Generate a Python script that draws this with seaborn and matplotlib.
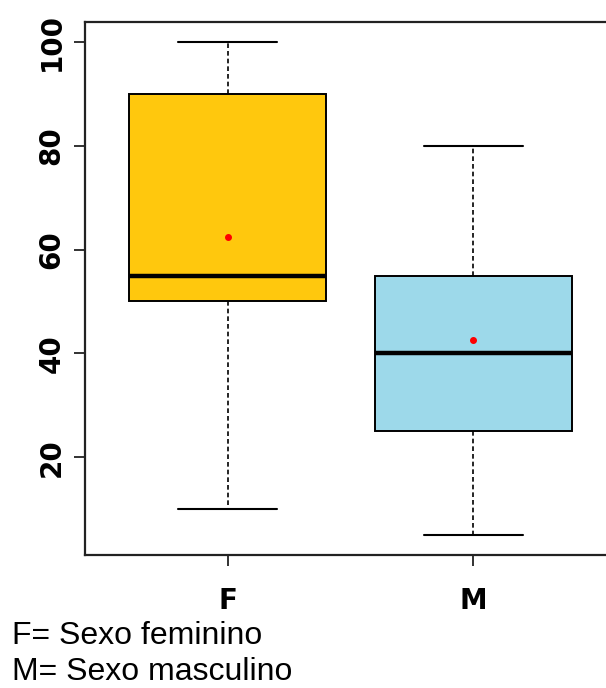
import pandas as pd
import seaborn as sns
import matplotlib.pyplot as plt

# valores por grupo
sexo = ["F", "M"]
valores_f = [10, 40, 50, 52, 55, 75, 90, 90, 100]
valores_m = [5, 20, 25, 38, 40, 50, 55, 70, 80]
cores = ["#FFC80D", "#9DD9EA"]
legenda = ["F= Sexo feminino", "M= Sexo masculino"]
y_ticks = [20, 40, 60, 80, 100]

df = pd.DataFrame({
    "sexo": ["F"] * len(valores_f) + ["M"] * len(valores_m),
    "valor": valores_f + valores_m,
})

sns.set_style("ticks")
plt.rcParams["font.family"] = ["DejaVu Sans"]
plt.rcParams["text.color"] = "black"

fig = plt.figure(figsize=(6.06, 6.88), dpi=100)
# axes extends past the right edge (reference is cropped there)
ax = fig.add_axes([85 / 606, 133 / 688, 531 / 606, 533 / 688])

sns.boxplot(
    data=df, x="sexo", y="valor", hue="sexo", order=sexo, hue_order=sexo,
    palette=cores, saturation=1, width=0.8, linecolor="black", linewidth=1.4,
    showfliers=False, showmeans=True, legend=False, ax=ax,
    meanprops={"marker": "o", "markerfacecolor": "red",
               "markeredgecolor": "red", "markersize": 4},
    medianprops={"linewidth": 3.2, "color": "black"},
    whiskerprops={"linestyle": (0, (2.8, 1.8)), "linewidth": 1.2},
    capprops={"linewidth": 1.5},
)

ax.set_xlim(-0.58, 1.58)
ax.set_ylim(1.2, 103.8)
ax.set_yticks(y_ticks)
ax.set_xlabel("")
ax.set_ylabel("")

for s in ax.spines.values():
    s.set_linewidth(1.6)
    s.set_color("#222222")
ax.tick_params(axis="both", length=8, width=1.3, color="#222222",
               labelsize=20, labelcolor="black")
ax.tick_params(axis="y", pad=6)
ax.tick_params(axis="x", pad=15)
for lab in ax.get_yticklabels():
    lab.set_rotation(90)
    lab.set_va("center")
    lab.set_fontweight("bold")
for lab in ax.get_xticklabels():
    lab.set_fontweight("bold")

fig.text(12 / 606, 1 - 644 / 688, legenda[0], fontsize=23, va="baseline",
         family="Liberation Sans", color="black")
fig.text(12 / 606, 1 / 688, legenda[1], fontsize=23, va="bottom",
         family="Liberation Sans", color="black")

plt.savefig("out.png", dpi=100)
plt.close()
